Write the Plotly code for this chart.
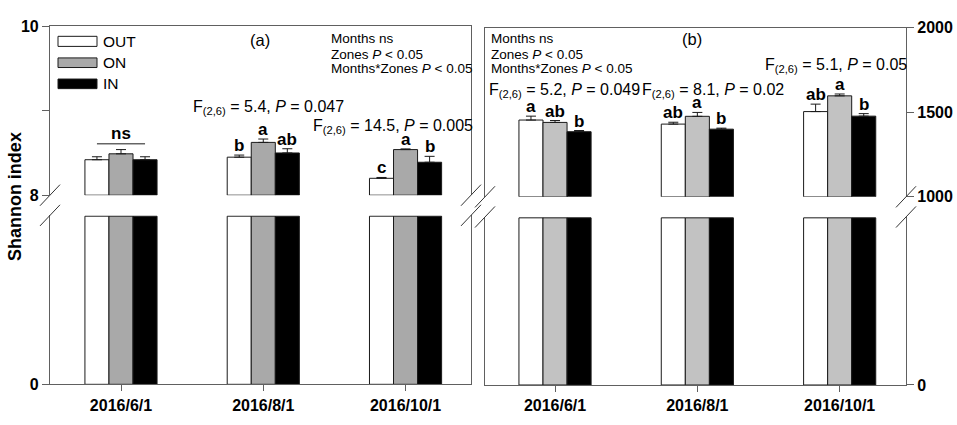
import numpy as np
import plotly.graph_objects as go

W, H = 957, 425
FONT = "Liberation Sans, Arial, sans-serif"

# ---------------- data ----------------
dates = ["2016/6/1", "2016/8/1", "2016/10/1"]
zones = ["OUT", "ON", "IN"]

# panel (a) Shannon index
shannon_out = [8.42, 8.45, 8.20]
shannon_on = [8.49, 8.625, 8.54]
shannon_in = [8.42, 8.50, 8.39]
shannon_out_se = [0.035, 0.025, 0.01]
shannon_on_se = [0.05, 0.04, 0.008]
shannon_in_se = [0.035, 0.05, 0.07]
shannon_let_out = ["", "b", "c"]
shannon_let_on = ["", "a", "a"]
shannon_let_in = ["", "ab", "b"]

# panel (b) Chao1
chao_out = [1454, 1430, 1504]
chao_on = [1440, 1476, 1597]
chao_in = [1385, 1400, 1477]
chao_out_se = [23, 11, 44]
chao_on_se = [11, 23, 11]
chao_in_se = [7, 6, 15]
chao_let_out = ["a", "ab", "ab"]
chao_let_on = ["ab", "a", "a"]
chao_let_in = ["b", "b", "b"]

stats_a = ["F<sub>(2,6)</sub> = 5.4, <i>P</i> = 0.047",
           "F<sub>(2,6)</sub> = 14.5, <i>P</i> = 0.005"]
stats_b = ["F<sub>(2,6)</sub> = 5.2, <i>P</i> = 0.049",
           "F<sub>(2,6)</sub> = 8.1, <i>P</i> = 0.02",
           "F<sub>(2,6)</sub> = 5.1, <i>P</i> = 0.05"]

colors_a = ["#ffffff", "#a9a9a9", "#000000"]
colors_b = ["#ffffff", "#c2c2c2", "#000000"]

BARGAP = 0.493
BW = (1 - BARGAP) / 3
AXC = "#606060"
EDGE = "#1a1a1a"


def px(x):
    return x / W


def py(y):
    return 1 - y / H


fig = go.Figure()

panels = [
    dict(name="a", xl="x", yl="y", xu="x2", yu="y2",
         vals=[shannon_out, shannon_on, shannon_in],
         errs=[shannon_out_se, shannon_on_se, shannon_in_se],
         lets=[shannon_let_out, shannon_let_on, shannon_let_in],
         colors=colors_a, brk=8.0, top=10.0),
    dict(name="b", xl="x3", yl="y3", xu="x4", yu="y4",
         vals=[chao_out, chao_on, chao_in],
         errs=[chao_out_se, chao_on_se, chao_in_se],
         lets=[chao_let_out, chao_let_on, chao_let_in],
         colors=colors_b, brk=1000.0, top=2000.0),
]

annotations = []
shapes = []
xs = np.arange(len(dates))

for p in panels:
    for j, zone in enumerate(zones):
        v = np.array(p["vals"][j], dtype=float)
        e = np.array(p["errs"][j], dtype=float)
        # lower segment (clipped at the break)
        fig.add_trace(go.Bar(
            x=xs, y=np.minimum(v, p["brk"]) * 0.995, name=zone,
            xaxis=p["xl"], yaxis=p["yl"], showlegend=False,
            marker=dict(color=p["colors"][j], line=dict(color=EDGE, width=1)),
        ))
        # upper segment (starting at the break)
        fig.add_trace(go.Bar(
            x=xs, y=v - p["brk"], base=p["brk"], name=zone,
            xaxis=p["xu"], yaxis=p["yu"], showlegend=False,
            marker=dict(color=p["colors"][j], line=dict(color=EDGE, width=1)),
            error_y=dict(type="data", array=e, arrayminus=np.zeros_like(e),
                         symmetric=False, color=EDGE, thickness=1, width=5),
        ))
        for i in range(len(dates)):
            t = p["lets"][j][i]
            if t:
                annotations.append(dict(
                    x=i + (j - 1) * BW, y=v[i] + e[i], xref=p["xu"], yref=p["yu"],
                    text="<b>%s</b>" % t, showarrow=False, yanchor="bottom",
                    yshift=-2, font=dict(family=FONT, size=17, color="black")))

# "ns" bracket over first group of panel (a)
tops_a0 = [np.array(panels[0]["vals"][j][0]) + panels[0]["errs"][j][0] for j in range(3)]
ns_y = max(tops_a0) + 0.068
shapes.append(dict(type="line", xref="x2", yref="y2", x0=-BW, x1=BW, y0=ns_y, y1=ns_y,
                   line=dict(color=EDGE, width=1)))
annotations.append(dict(x=0, y=ns_y, xref="x2", yref="y2", text="<b>ns</b>",
                        showarrow=False, yanchor="bottom", yshift=-1,
                        font=dict(family=FONT, size=17, color="black")))

# ---------------- axes ----------------
dom_xa = [px(50), px(471)]
dom_xb = [px(485), px(906)]
dom_a_low = [py(392), py(216)]
dom_a_up = [py(195), py(19)]
dom_b_low = [py(392.7), py(217.7)]
dom_b_up = [py(196.7), py(20.5)]

tickfont = dict(family=FONT, size=16, color="black")
common_x = dict(tickvals=list(xs), ticktext=["<b>%s</b>" % d for d in dates],
                ticks="outside", ticklen=6, tickcolor=AXC, showline=True,
                linecolor=AXC, linewidth=1.2, showgrid=False, zeroline=False,
                tickfont=tickfont, fixedrange=True)
upper_x = dict(showline=True, linecolor=AXC, linewidth=1.2, ticks="", side="top",
               showticklabels=False, showgrid=False, zeroline=False)
common_y = dict(ticks="outside", ticklen=7, tickcolor=AXC, showline=True,
                linecolor=AXC, linewidth=1.2, mirror=True, showgrid=False,
                zeroline=False, tickfont=tickfont)

fig.update_layout(
    xaxis=dict(domain=dom_xa, anchor="y", range=[-0.499, 2.46], **common_x),
    xaxis2=dict(domain=dom_xa, anchor="y2", matches="x", **upper_x),
    yaxis=dict(domain=dom_a_low, anchor="x", range=[0, 8], tickvals=[0],
               ticktext=["<b>0</b>"], **common_y),
    yaxis2=dict(domain=dom_a_up, anchor="x2", range=[8, 10], tickvals=[8, 10],
                ticktext=["<b>8</b>", "<b>10</b>"],
                minor=dict(tickmode="array", tickvals=[9], ticks="outside",
                           ticklen=7, tickcolor=AXC),
                **common_y),
    xaxis3=dict(domain=dom_xb, anchor="y3", range=[-0.492, 2.466], **common_x),
    xaxis4=dict(domain=dom_xb, anchor="y4", matches="x3", **upper_x),
    yaxis3=dict(domain=dom_b_low, anchor="x3", side="right", range=[0, 1000],
                tickvals=[0], ticktext=["<b>0</b>"], **common_y),
    yaxis4=dict(domain=dom_b_up, anchor="x4", side="right", range=[1000, 2000],
                tickvals=[1000, 1500, 2000],
                ticktext=["<b>1000</b>", "<b>1500</b>", "<b>2000</b>"], **common_y),
)

# ---------------- axis break marks ----------------
for xe in [50, 471, 485, 906]:
    ybreaks = [195, 216] if xe < 480 else [196.7, 217.7]
    for yb in ybreaks:
        shapes.append(dict(type="line", xref="paper", yref="paper",
                           x0=px(xe - 10), y0=py(yb + 11), x1=px(xe + 10), y1=py(yb - 11),
                           line=dict(color="#333333", width=1)))

# ---------------- legend (panel a) ----------------
leg_rows = [(29.5, 40), (52, 62), (74, 84)]
for j, zone in enumerate(zones):
    y0, y1 = leg_rows[j]
    shapes.append(dict(type="rect", xref="paper", yref="paper",
                       x0=px(58), x1=px(97), y0=py(y1), y1=py(y0),
                       fillcolor=colors_a[j], line=dict(color=EDGE, width=1)))
    annotations.append(dict(x=px(101), y=py((y0 + y1) / 2), xref="paper", yref="paper",
                            text=zone, showarrow=False, xanchor="left", yanchor="middle",
                            font=dict(family=FONT, size=15.5, color="black")))

# ---------------- text ----------------
def txt(x, y, s, size, xanchor="left"):
    annotations.append(dict(x=px(x), y=py(y), xref="paper", yref="paper", text=s,
                            showarrow=False, xanchor=xanchor, yanchor="middle",
                            font=dict(family=FONT, size=size, color="black")))

txt(260, 33, "(a)", 16.5, "center")
txt(692, 32, "(b)", 16.5, "center")
for x0 in [329, 489]:
    txt(x0, 32, "Months ns", 13.5)
    txt(x0, 48, "Zones <i>P</i> < 0.05", 13.5)
    txt(x0, 63, "Months*Zones <i>P</i> < 0.05", 13.5)

txt(191, 104, stats_a[0], 16)
txt(311, 123, stats_a[1], 16)
txt(487, 86, stats_b[0], 16)
txt(640, 86, stats_b[1], 16)
txt(763, 60, stats_b[2], 16)

# y-axis title
annotations.append(dict(x=px(15), y=py(197), xref="paper", yref="paper",
                        text="<b>Shannon index</b>", textangle=-90, showarrow=False,
                        xanchor="center", yanchor="middle",
                        font=dict(family=FONT, size=18, color="black")))

fig.update_layout(
    width=W, height=H, margin=dict(l=0, r=0, t=0, b=0),
    paper_bgcolor="white", plot_bgcolor="white",
    barmode="group", bargap=BARGAP, bargroupgap=0,
    showlegend=False, annotations=annotations, shapes=shapes,
    font=dict(family=FONT, color="black"),
)

POST = (
    "document.documentElement.style.margin='0';"
    "document.documentElement.style.overflow='hidden';"
    "document.body.style.margin='0';"
    "document.body.style.overflow='hidden';"
    "var gd=document.getElementById('{plot_id}');"
    "gd.style.position='fixed';gd.style.left='0px';gd.style.top='0px';"
)

fig.write_html(
    "out.html",
    config={"displayModeBar": False, "responsive": False},
    post_script=POST,
)
